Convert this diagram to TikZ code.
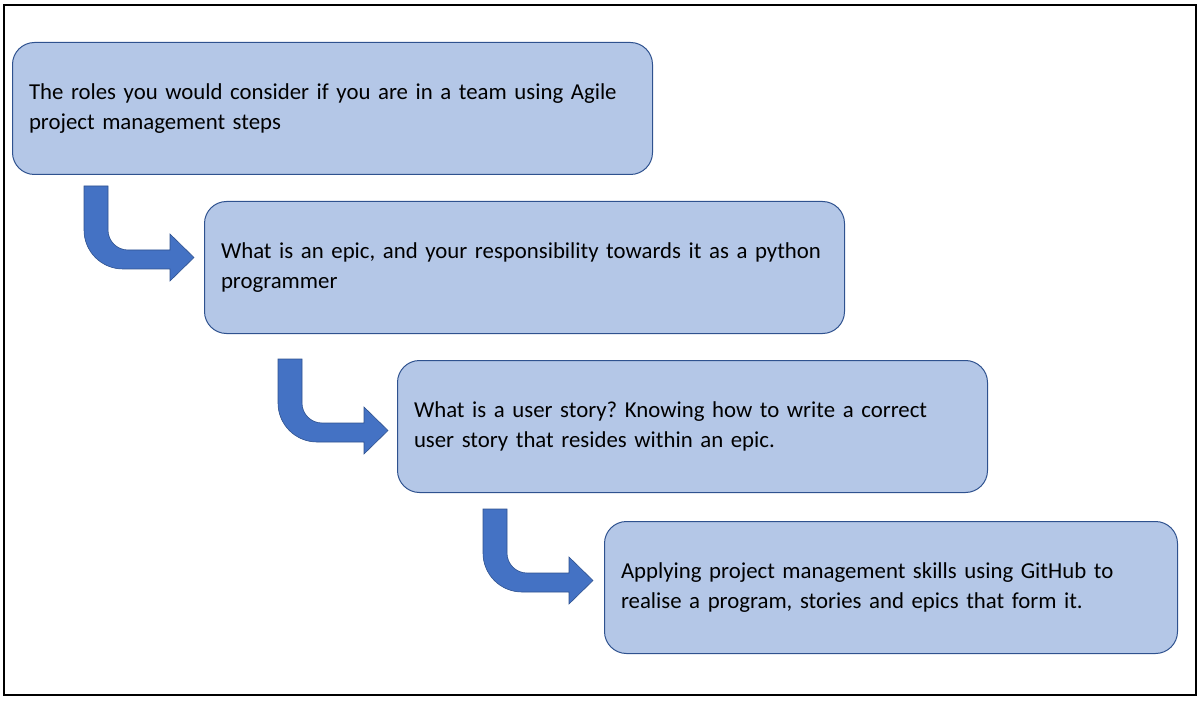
\documentclass[tikz,border=0pt]{standalone}
\usepackage{fontspec}
\setmainfont{Carlito}
\usepackage{tikz}
\frenchspacing
\definecolor{boxfill}{HTML}{B4C7E7}
\definecolor{boxline}{HTML}{2F528F}
\definecolor{arrowfill}{HTML}{4472C4}
\tikzset{
	stepbox/.style={draw=boxline, line width=1pt, fill=boxfill, rounded corners=22pt,
		anchor=north west, minimum height=132pt, inner xsep=16.5pt, align=left,
		font=\fontsize{22.8pt}{30pt}\selectfont}
}
\def\bentarrow(#1,#2){\draw[fill=arrowfill, draw=boxline, line width=0.6pt] (#1,#2) -- ++(24,0) -- ++(0,44) arc (180:90:20) -- ++(42,0) -- ++(0,-16) -- ++(24,23.5) -- ++(-24,23.5) -- ++(0,-12) -- ++(-47,0) arc (90:180:39) -- cycle;}

\begin{document}
\begin{tikzpicture}[x=1pt, y=-1pt]
			%%%%% START %%%%%
			\useasboundingbox (0,0) rectangle (1204,703);
			\draw[line width=2.3pt] (4,5) rectangle (1196,695);
			
			\node[stepbox, minimum width=640pt, text width=607pt] (roles) at (12,42)
				{The roles you would consider if you are in a team using Agile\\project management steps};
			
			\node[stepbox, minimum width=640pt, text width=607pt] (epic) at (204,201)
				{What is an epic, and your responsibility towards it as a python\\programmer};
			
			\node[stepbox, minimum width=590pt, text width=557pt] (story) at (397,360)
				{What is a user story? Knowing how to write a correct\\user story that resides within an epic.};
			
			\node[stepbox, minimum width=573pt, text width=540pt] (github) at (604,521)
				{Applying project management skills using GitHub to\\realise a program, stories and epics that form it.};
			
			\bentarrow(84,186)
			\bentarrow(278,359)
			\bentarrow(483,509)
			
			%%%%% END %%%%%
\end{tikzpicture}
\end{document}
